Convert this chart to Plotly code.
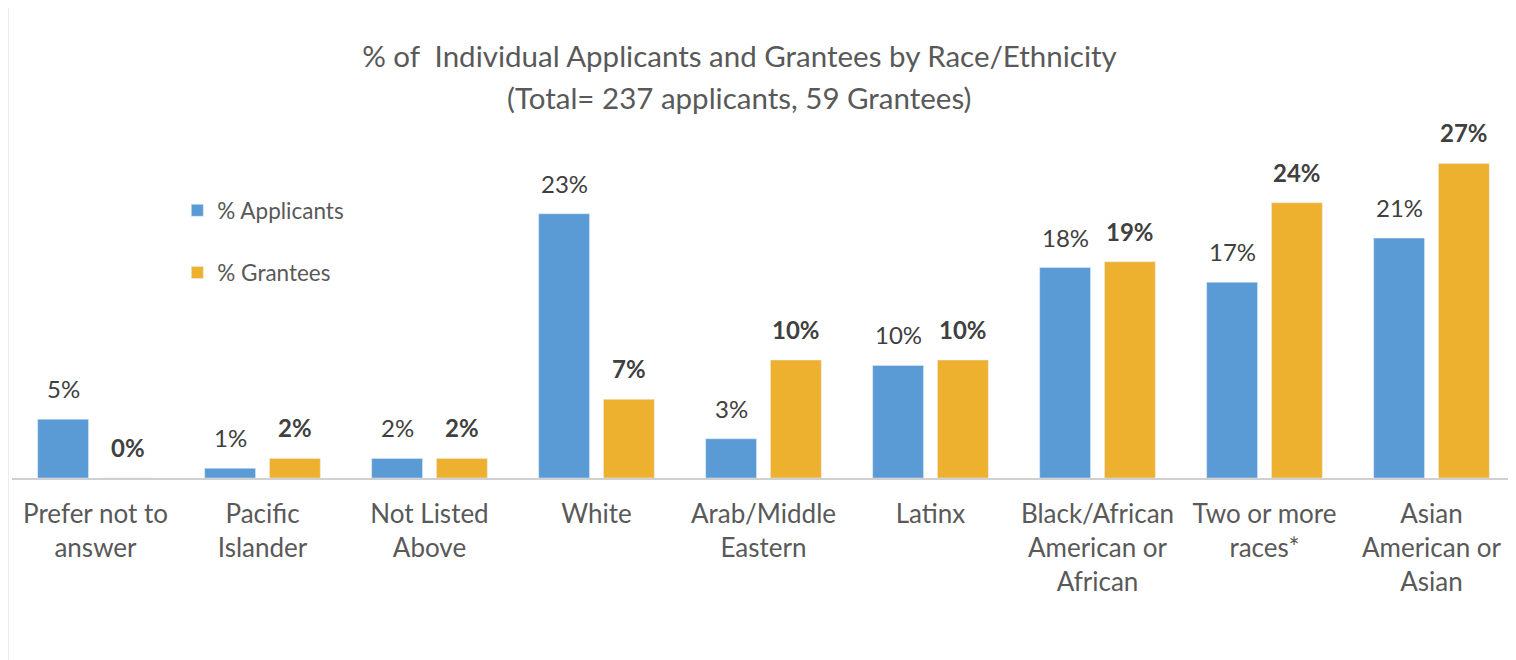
import plotly.graph_objects as go

categories = [
    'Prefer not to<br>answer', 'Pacific<br>Islander', 'Not Listed<br>Above', 'White',
    'Arab/Middle<br>Eastern', 'Latinx', 'Black/African<br>American or<br>African',
    'Two or more<br>races*', 'Asian<br>American or<br>Asian'
]
applicants_pct = [5.06, 0.84, 1.69, 22.78, 3.38, 9.70, 18.14, 16.88, 20.68]
grantees_pct = [0.0, 1.69, 1.69, 6.78, 10.17, 10.17, 18.64, 23.73, 27.12]

blue = '#5B9BD5'
gold = '#EDB12F'
text_grey = '#404040'
font_family = 'Lato, "Open Sans", sans-serif'

# the page body adds 8px of margin, so figure-space offsets are shifted by 8
fig = go.Figure()
fig.add_trace(
    go.Bar(x=categories, y=applicants_pct, name='% Applicants',
           marker_color=blue, legendgroup='a')
)
fig.add_trace(
    go.Bar(x=categories, y=grantees_pct, name='% Grantees',
           marker_color=gold, legendgroup='g')
)

# value labels above the bars
for cat, a, g in zip(categories, applicants_pct, grantees_pct):
    fig.add_annotation(
        x=cat, y=a, text=f'{a:.0f}%', showarrow=False,
        xshift=-32.4, yshift=14, yanchor='bottom',
        font=dict(size=24, color=text_grey)
    )
    fig.add_annotation(
        x=cat, y=g, text=f'<b>{g:.0f}%</b>', showarrow=False,
        xshift=32.4, yshift=14, yanchor='bottom',
        font=dict(size=24, color=text_grey)
    )

fig.update_layout(
    width=1516,
    height=660,
    paper_bgcolor='white',
    plot_bgcolor='white',
    font=dict(family=font_family, color='#595959'),
    margin=dict(l=4, r=9, t=122, b=190),
    barmode='group',
    bargap=0.224,
    bargroupgap=0.215,
    title=dict(
        text='% of  Individual Applicants and Grantees by Race/Ethnicity',
        x=0.484, xanchor='center', xref='paper',
        y=1 - 49 / 660, yanchor='middle', yref='container',
        font=dict(size=29.5, color='#595959')
    ),
    legend=dict(
        x=0.11, y=0.83, xanchor='left', yanchor='top',
        font=dict(size=22.5, color='#595959'),
        tracegroupgap=30, itemwidth=30, bgcolor='rgba(0,0,0,0)'
    ),
    showlegend=True,
    xaxis=dict(
        showline=True, linecolor='#D0D0D0', linewidth=2,
        ticks='', tickfont=dict(size=26, color='#595959'),
        ticklabelstandoff=12, showgrid=False
    ),
    yaxis=dict(
        range=[0, 30], visible=False, showgrid=False, zeroline=False
    ),
)

fig.add_annotation(
    text='(Total= 237 applicants, 59 Grantees)',
    xref='paper', yref='paper', x=0.484, y=(470 - 89) / 348,
    xanchor='center', yanchor='middle', showarrow=False,
    font=dict(size=29.5, color='#595959')
)

# thin frame line at left edge
fig.add_shape(
    type='line', xref='paper', yref='paper',
    x0=-4 / 1503, x1=-4 / 1503, y0=-190 / 348, y1=470 / 348,
    line=dict(color='#D9D9D9', width=1)
)

fig.write_html('out.html')
